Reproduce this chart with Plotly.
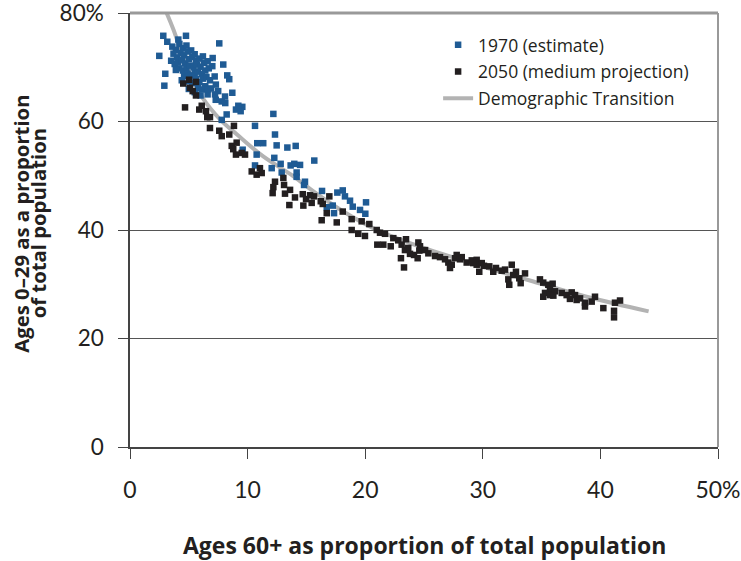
import plotly.graph_objects as go

# ---- data (percent) ----
x1970 = [2.83, 4.76, 3.17, 4.11, 7.59, 2.49, 3.00, 2.92, 7.93, 7.03, 8.27, 8.44, 8.70, 7.29, 8.08,
         8.10, 9.01, 9.55, 9.41, 12.19, 10.63, 8.22, 7.80, 12.33, 10.82, 11.33, 12.47, 13.38, 14.09,
         15.67, 10.77, 12.27, 10.63, 12.81, 13.66, 13.97, 14.46, 12.05, 12.90, 14.17, 14.17, 14.88,
         14.80, 9.58, 16.33, 17.63, 18.09, 18.28, 18.71, 17.24, 18.94, 20.07, 19.56, 20.01, 17.35, 16.73,
         3.6, 3.9, 4.2, 4.5, 4.8, 3.7, 4.0, 4.3, 4.6, 4.9, 5.2, 5.5, 3.5, 3.8, 4.1, 4.4, 4.7, 5.0, 5.3,
         5.6, 5.9, 6.2, 4.2, 4.5, 4.8, 5.1, 5.4, 5.7, 6.0, 6.3, 6.6, 4.6, 4.9, 5.2, 5.5, 5.8, 6.1, 6.4,
         6.7, 7.0, 5.0, 5.3, 5.6, 5.9, 6.2, 6.5, 6.8, 7.2, 5.8, 6.1, 6.4, 6.9, 7.3, 6.0, 6.6, 7.5, 3.9,
         4.4, 5.0, 5.5, 6.65, 7.23, 7.80, 9.21]
y1970 = [75.8, 75.8, 74.7, 75.1, 74.4, 72.1, 68.8, 66.6, 70.5, 71.7, 68.5, 67.8, 65.3, 64.0, 64.6,
         63.4, 62.2, 62.7, 61.9, 61.4, 59.2, 61.3, 60.3, 57.6, 56.0, 56.0, 55.6, 55.2, 55.5,
         52.8, 53.9, 53.3, 51.9, 52.2, 51.9, 52.2, 52.0, 51.4, 50.6, 50.6, 49.8, 48.9,
         48.3, 54.8, 47.2, 46.9, 47.3, 46.2, 45.4, 44.5, 44.3, 45.1, 43.7, 43.0, 43.1, 44.2,
         73.8, 73.2, 74.3, 73.5, 74.0, 72.5, 71.8, 72.6, 72.2, 72.9, 73.1, 72.4, 71.2, 70.6, 70.9, 71.3,
         70.7, 71.5, 71.9, 71.2, 71.6, 72.0, 69.8, 69.4, 69.9, 70.3, 70.0, 70.5, 70.1, 70.8, 71.1, 68.4,
         68.8, 68.5, 68.9, 69.2, 68.7, 69.4, 69.8, 70.2, 67.4, 67.1, 67.8, 67.3, 67.9, 68.2, 67.6, 68.3,
         66.2, 65.9, 66.5, 66.1, 66.8, 64.8, 65.0, 65.6, 69.5, 67.6, 66.0, 65.4, 65.9, 65.0, 63.7, 62.9]

x2050 = [4.53, 5.02, 5.61, 5.10, 5.33, 5.61, 4.68, 6.10, 5.89, 6.46, 6.57, 6.80, 6.80, 7.59, 7.80,
         8.44, 8.84, 8.65, 9.07, 8.78, 9.01, 9.50, 9.78, 10.35, 11.05, 10.77, 11.20, 12.33, 13.04,
         13.10, 12.19, 12.13, 13.61, 13.18, 14.03, 14.69, 14.97, 15.45, 15.65, 16.22, 16.95, 13.55,
         14.74, 15.31, 16.39, 16.73, 16.30, 18.09, 17.58, 18.85, 19.70, 20.35, 18.85, 19.41, 19.98,
         20.98, 21.26, 21.68, 22.39, 22.81, 23.47, 21.03, 21.54, 22.17, 23.10, 23.38, 23.66, 23.81,
         24.52, 24.66, 24.60, 24.15, 24.46, 25.09, 25.37, 23.04, 23.30, 25.94, 26.36, 26.79, 27.07,
         27.36, 27.64, 27.78, 28.06, 28.63, 29.06, 29.48, 27.21, 29.48, 28.21, 29.19, 29.70, 29.91,
         30.10, 30.55, 30.89, 31.12, 31.61, 31.89, 32.46, 32.82, 32.17, 32.25, 32.59, 33.10, 33.59,
         33.22, 34.86, 35.14, 35.57, 35.94, 35.71, 36.14, 35.29, 35.14, 35.71, 36.00, 36.71, 37.13,
         37.56, 37.84, 37.41, 37.98, 38.27, 38.69, 38.69, 39.26, 39.54, 40.25, 41.24, 41.67, 41.16,
         41.16]
y2050 = [67.0, 67.7, 67.3, 66.2, 65.6, 64.8, 62.6, 62.9, 62.2, 61.9, 60.8, 60.8, 58.8, 58.3, 57.3,
         57.6, 59.2, 55.5, 56.1, 54.9, 53.9, 54.2, 53.9, 50.8, 51.4, 50.2, 50.5, 48.9, 49.6,
         48.3, 47.9, 46.8, 47.4, 46.7, 46.0, 46.6, 45.7, 45.0, 46.2, 45.3, 46.2, 44.6,
         44.5, 46.4, 44.8, 43.1, 41.8, 43.4, 41.4, 42.0, 41.6, 41.1, 40.0, 39.3, 38.9,
         40.0, 39.5, 39.3, 38.5, 38.1, 38.3, 37.3, 37.3, 37.0, 37.3, 36.3, 36.7, 35.6,
         37.7, 37.0, 36.2, 35.4, 34.8, 36.3, 35.7, 34.8, 33.1, 35.2, 35.0, 34.6, 34.0,
         33.6, 34.8, 35.4, 34.6, 34.0, 34.4, 34.5, 33.0, 33.6, 35.0, 33.9, 32.3, 33.9,
         33.4, 33.3, 32.3, 33.0, 32.5, 32.7, 33.6, 32.3, 30.9, 29.9, 31.7, 31.1, 32.0,
         30.2, 30.9, 30.3, 29.9, 30.1, 29.0, 28.7, 28.4, 27.7, 28.0, 27.9, 28.4, 28.0,
         28.5, 28.0, 27.3, 27.1, 27.4, 26.6, 25.9, 26.8, 27.7, 25.6, 26.6, 27.0, 25.1,
         23.9]

x_trend = [3.0, 3.7, 4.8, 6.1, 7.7, 9.1, 11.3, 13.9, 15.6, 18.0, 21.0, 23.8, 28.6, 34.3, 39.0, 44.1]
y_trend = [80.6, 76.9, 70.2, 64.6, 60.3, 57.6, 53.6, 49.9, 47.1, 43.6, 40.0, 37.6, 34.2, 30.5, 27.6, 25.0]

x_tickvals = [0, 10, 20, 30, 40, 50]
x_ticktext = ["0", "10", "20", "30", "40", "50%"]
y_tickvals = [0, 20, 40, 60, 80]
y_ticktext = ["0", "20", "40", "60", "80%"]

TXT = "#231f20"
TICKFONT = "Lato"
TFONT = "Open Sans"

fig = go.Figure()
fig.add_trace(go.Scatter(
    x=x_trend, y=y_trend, mode="lines", name="Demographic Transition", legendgroup="c",
    line=dict(color="#b3b3b3", width=4, shape="spline"), cliponaxis=False, legendrank=3))
fig.add_trace(go.Scatter(
    x=x1970, y=y1970, mode="markers", name="1970 (estimate)", legendgroup="a",
    marker=dict(symbol="square", size=6.5, color="#1f5b94"), legendrank=1))
fig.add_trace(go.Scatter(
    x=x2050, y=y2050, mode="markers", name="2050 (medium projection)", legendgroup="b",
    marker=dict(symbol="square", size=6.5, color="#231f20"), legendrank=2))

fig.update_layout(
    width=741, height=561,
    margin=dict(l=130, r=23, t=13, b=114, autoexpand=False),
    paper_bgcolor="white", plot_bgcolor="white",
    font=dict(family=TICKFONT, color=TXT),
    showlegend=True,
    legend=dict(x=0.524, y=0.968, xanchor="left", yanchor="top", bgcolor="rgba(0,0,0,0)",
                traceorder="grouped", tracegroupgap=1,
                font=dict(family=TFONT, size=17.5, color=TXT)),
    xaxis=dict(range=[0, 50], tickvals=x_tickvals, ticktext=x_ticktext, showgrid=False,
               zeroline=False, showline=True, linecolor="#444", linewidth=1.5, automargin=False,
               ticks="outside", ticklen=10, tickcolor="#444", ticklabelstandoff=12,
               ticklabeloverflow="allow",
               tickfont=dict(family=TICKFONT, size=23, color=TXT)),
    yaxis=dict(range=[0, 80], tickvals=y_tickvals, ticktext=y_ticktext, showgrid=True,
               gridcolor="#555", gridwidth=1, zeroline=False, showline=True, automargin=False,
               linecolor="#444", linewidth=1.5, ticks="outside", ticklen=10, tickcolor="#444",
               ticklabelstandoff=10, ticklabeloverflow="allow",
               tickfont=dict(family=TICKFONT, size=22.5, color=TXT)),
    shapes=[
        dict(type="line", xref="x domain", yref="y domain", x0=0, x1=1, y0=1, y1=1,
             line=dict(color="#999", width=3)),
        dict(type="line", xref="x domain", yref="y domain", x0=1, x1=1, y0=0, y1=1,
             line=dict(color="#999", width=2)),
    ],
    annotations=[
        dict(text="<b>Ages 60+ as proportion of total population</b>", xref="paper", yref="paper",
             x=0.5, y=-0.225, xanchor="center", yanchor="middle", showarrow=False,
             font=dict(family=TFONT, size=23, color=TXT)),
        dict(text="<b>Ages 0–29 as a proportion</b>", xref="paper", yref="paper",
             x=-0.185, y=0.515, xanchor="center", yanchor="middle", textangle=-90,
             showarrow=False, font=dict(family=TFONT, size=20.3, color=TXT)),
        dict(text="<b>of total population</b>", xref="paper", yref="paper",
             x=-0.155, y=0.515, xanchor="center", yanchor="middle", textangle=-90,
             showarrow=False, font=dict(family=TFONT, size=20.3, color=TXT)),
    ],
)

fig.write_html("out.html", config={"displayModeBar": False},
               post_script="document.body.style.margin='0';document.body.style.padding='0';")
